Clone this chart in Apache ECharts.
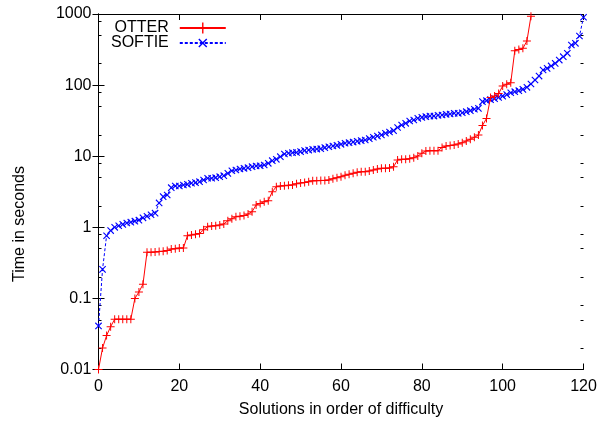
<!DOCTYPE html>
<html>
<head>
<meta charset="utf-8">
<style>
  html, body { margin: 0; padding: 0; background: #ffffff; }
  #chart { width: 604px; height: 423px; }
</style>
<script src="https://cdn.jsdelivr.net/npm/echarts@6/dist/echarts.min.js"></script>
</head>
<body>
<div id="chart"></div>
<script>
// ---- data ----
const seriesNames = ['OTTER', 'SOFTIE'];

const otterTimes = [
  0.01, 0.02, 0.03, 0.04, 0.051, 0.051, 0.051, 0.051, 0.051, 0.10,
  0.123, 0.158, 0.445, 0.445, 0.45, 0.455, 0.46, 0.47, 0.495, 0.50,
  0.51, 0.51, 0.76, 0.78, 0.80, 0.82, 0.92, 1.02, 1.04, 1.05,
  1.08, 1.11, 1.24, 1.32, 1.41, 1.43, 1.46, 1.54, 1.66, 2.06,
  2.17, 2.29, 2.37, 3.17, 3.73, 3.8, 3.85, 3.9, 3.95, 4.1,
  4.2, 4.27, 4.38, 4.5, 4.53, 4.57, 4.57, 4.63, 4.83, 4.99,
  5.15, 5.38, 5.56, 5.74, 5.93, 6.06, 6.06, 6.19, 6.4, 6.61,
  6.75, 6.75, 6.82, 7.12, 8.85, 9.04, 9.04, 9.23, 9.53, 10.07,
  10.97, 11.83, 11.96, 11.96, 11.96, 13.3, 13.9, 14.1, 14.4, 14.9,
  15.5, 16.4, 17.3, 18.4, 19.9, 27, 34, 67, 70, 76,
  97, 103, 108, 305, 318, 329, 417, 930
];

const softieTimes = [
  0.041, 0.256, 0.76, 0.9, 1.0, 1.05, 1.1, 1.15, 1.18, 1.22,
  1.26, 1.36, 1.43, 1.5, 1.58, 2.2, 2.7, 2.85, 3.61, 3.81,
  3.81, 3.94, 4.02, 4.16, 4.25, 4.38, 4.63, 4.89, 4.89, 4.99,
  5.15, 5.32, 5.74, 6.25, 6.4, 6.61, 6.75, 6.89, 7.12, 7.28,
  7.35, 7.52, 7.94, 8.65, 9.04, 9.84, 10.74, 11.0, 11.2, 11.3,
  11.6, 12.0, 12.2, 12.5, 12.6, 12.75, 13.2, 13.6, 13.9, 14.2,
  14.7, 15.2, 15.5, 15.8, 16.2, 16.55, 16.9, 17.65, 18.45, 19.2,
  19.9, 21.0, 21.9, 22.9, 25.3, 27.5, 29, 31.3, 32.3, 34.1,
  35.2, 36.0, 36.7, 36.7, 37.6, 38.0, 38.8, 39.2, 40.1, 40.1,
  40.9, 42.3, 43.7, 45.7, 47.1, 58.5, 60.4, 62.5, 64.5, 67,
  70, 73.5, 78, 80.8, 83.5, 87.1, 93.1, 103.5, 118, 134,
  163, 172, 186, 202, 225, 251, 280, 366, 387, 491,
  900
];

const xTicks = [0, 20, 40, 60, 80, 100, 120];
const yTicks = [0.01, 0.1, 1, 10, 100, 1000];
const yMinorTicks = [0.02, 0.05, 0.08, 0.2, 0.5, 0.8, 2, 5, 8, 20, 50, 80, 200, 500, 800];

// ---- chart ----
const FONT = 'Liberation Sans, Arial, sans-serif';
const plusPath = 'path://M3.5,0H4.5V3.5H8V4.5H4.5V8H3.5V4.5H0V3.5H3.5Z';
const gridRect = { left: 98.5, right: 20.5, top: 14, bottom: 53.5, containLabel: false };

const toPairs = arr => arr.map((v, i) => [i, v]);

const baseY = {
  type: 'log', logBase: 10,
  min: yTicks[0], max: yTicks[yTicks.length - 1],
  splitLine: { show: false },
  axisLine: { show: true, lineStyle: { color: '#000', width: 1 } },
  axisLabel: { show: false },
  axisTick: { show: true, inside: true, length: 6, lineStyle: { color: '#000', width: 1 } }
};

const baseX = {
  type: 'value',
  min: xTicks[0], max: xTicks[xTicks.length - 1], interval: 20,
  splitLine: { show: false },
  axisLine: { show: true, onZero: false, lineStyle: { color: '#000', width: 1 } },
  axisTick: { show: true, inside: true, length: 6, lineStyle: { color: '#000', width: 1 } },
  axisLabel: { show: false }
};

const minorTick = { show: true, inside: true, length: 3, customValues: yMinorTicks,
  lineStyle: { color: '#000', width: 1 } };

const chart = echarts.init(document.getElementById('chart'), null, { renderer: 'canvas' });

chart.setOption({
  animation: false,
  backgroundColor: '#ffffff',
  textStyle: { fontFamily: FONT },
  grid: [Object.assign({}, gridRect), Object.assign({}, gridRect)],
  legend: {
    orient: 'vertical',
    align: 'right',
    left: 111,
    top: 20,
    padding: 0,
    itemGap: -1,
    itemWidth: 46,
    itemHeight: 14,
    textStyle: { fontFamily: FONT, fontSize: 16, color: '#000', padding: [0, 6, 0, 0], lineHeight: 16 },
    data: seriesNames
  },
  xAxis: [
    Object.assign({}, baseX, {
      gridIndex: 0,
      position: 'bottom',
      axisLabel: { show: true, color: '#000', fontSize: 16, fontFamily: FONT, margin: 9,
        customValues: xTicks },
      name: 'Solutions in order of difficulty',
      nameLocation: 'middle',
      nameGap: 32,
      nameTextStyle: { color: '#000', fontSize: 16, fontFamily: FONT }
    }),
    Object.assign({}, baseX, { gridIndex: 0, position: 'top' }),
    Object.assign({}, baseX, { gridIndex: 1, position: 'bottom', show: false })
  ],
  yAxis: [
    Object.assign({}, baseY, {
      gridIndex: 0,
      position: 'left',
      axisLabel: { show: true, color: '#000', fontSize: 16, fontFamily: FONT, margin: 7,
        formatter: v => String(v) }
    }),
    Object.assign({}, baseY, { gridIndex: 0, position: 'right' }),
    Object.assign({}, baseY, {
      gridIndex: 1, position: 'left',
      axisLine: { show: false }, axisTick: minorTick
    }),
    Object.assign({}, baseY, {
      gridIndex: 1, position: 'right',
      axisLine: { show: false }, axisTick: minorTick
    })
  ],
  graphic: [{
    type: 'text',
    x: 20, y: 224,
    rotation: Math.PI / 2,
    style: {
      text: 'Time in seconds',
      font: '16px ' + FONT,
      fill: '#000',
      textAlign: 'center',
      textVerticalAlign: 'middle'
    }
  }],
  series: [
    {
      name: seriesNames[0],
      type: 'line',
      xAxisIndex: 0, yAxisIndex: 0,
      data: toPairs(otterTimes),
      showSymbol: true, showAllSymbol: true,
      symbol: plusPath, symbolSize: 8,
      itemStyle: { color: '#ff0000' },
      lineStyle: { color: '#ff0000', width: 1 },
      z: 3
    },
    {
      name: seriesNames[1],
      type: 'line',
      xAxisIndex: 0, yAxisIndex: 0,
      data: toPairs(softieTimes),
      showSymbol: true, showAllSymbol: true,
      symbol: plusPath, symbolSize: 9, symbolRotate: 45,
      itemStyle: { color: '#0000ff' },
      lineStyle: { color: '#0000ff', width: 1, type: [3, 2] },
      z: 2
    }
  ]
});
</script>
</body>
</html>
